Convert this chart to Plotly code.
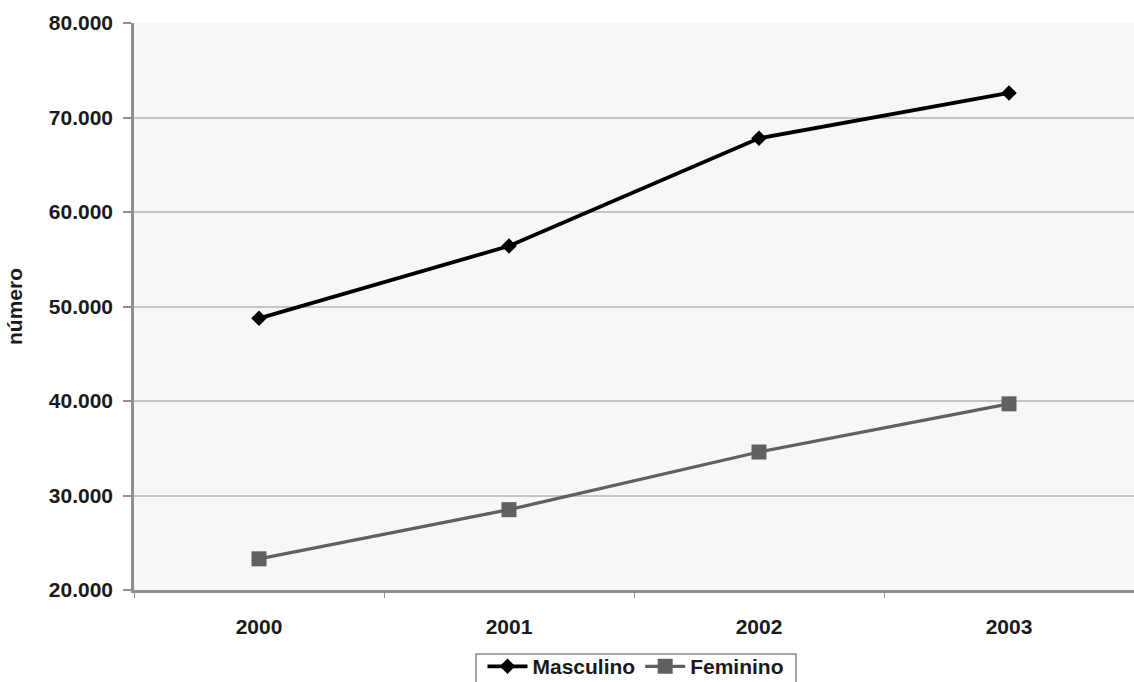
import plotly.graph_objects as go

years = ["2000", "2001", "2002", "2003"]
masculino = [48750, 56400, 67800, 72600]
feminino = [23300, 28500, 34600, 39700]
y_ticks = [20000, 30000, 40000, 50000, 60000, 70000, 80000]

fig = go.Figure()
fig.add_trace(go.Scatter(
    x=years, y=masculino, name="Masculino", mode="lines+markers",
    line=dict(color="#000000", width=3.8),
    marker=dict(symbol="diamond", size=12, color="#000000"),
))
fig.add_trace(go.Scatter(
    x=years, y=feminino, name="Feminino", mode="lines+markers",
    line=dict(color="#606060", width=3.2),
    marker=dict(symbol="square", size=15, color="#606060"),
))

# legend frame (box partly cut at the bottom edge, as in the reference)
fig.add_shape(
    type="rect", xref="paper", yref="paper",
    x0=0.342, x1=0.662, y0=-0.113, y1=-0.25,
    line=dict(color="#8a8a8a", width=1.5), fillcolor="white", layer="above",
)

fig.update_layout(
    width=1134, height=682,
    margin=dict(l=134, r=0, t=23, b=92, autoexpand=False),
    paper_bgcolor="white",
    plot_bgcolor="#f7f7f7",
    separators=",.",
    font=dict(family="Liberation Sans, Arial, sans-serif", size=21, color="#1a1a1a", weight="bold"),
    showlegend=True,
    legend=dict(
        orientation="h", x=0.502, xanchor="center", y=-0.099, yanchor="top",
        borderwidth=0, bgcolor="rgba(0,0,0,0)",
        font=dict(size=21), itemwidth=40, tracegroupgap=0,
    ),
)

fig.update_xaxes(
    type="category", range=[-0.5, 3.5], automargin=False,
    showgrid=False, showline=True, linecolor="#8f8f8f", linewidth=3,
    ticks="outside", tickson="boundaries", ticklen=5, tickcolor="#8f8f8f", tickwidth=1,
    ticklabelstandoff=16,
)
fig.update_yaxes(
    range=[20000, 80000], tickvals=y_ticks, tickformat=",d", automargin=False,
    showgrid=True, gridcolor="#c4c4c4", gridwidth=2,
    showline=True, linecolor="#8f8f8f", linewidth=2.5,
    ticks="outside", ticklen=8, tickcolor="#8f8f8f", tickwidth=1.5,
    ticklabelstandoff=6,
    zeroline=False,
    title=dict(text="número", font=dict(size=21), standoff=21),
)

fig.write_html(
    "out.html",
    config={"displayModeBar": False},
    post_script="document.body.style.margin='0';document.body.style.overflow='hidden';",
)
